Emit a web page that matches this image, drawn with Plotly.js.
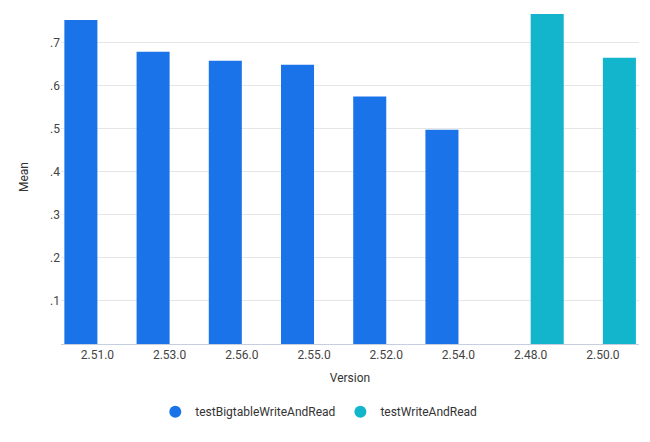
<!DOCTYPE html>
<html>
<head>
<meta charset="utf-8">
<script src="https://cdn.plot.ly/plotly-3.0.1.min.js"></script>
<style>html,body{margin:0;padding:0;background:#fff;}#chart{width:650px;height:442px;}</style>
</head>
<body>
<div id="chart"></div>
<script>
const categories = ["2.51.0","2.53.0","2.56.0","2.55.0","2.52.0","2.54.0","2.48.0","2.50.0"];
const seriesNames = ["testBigtableWriteAndRead","testWriteAndRead"];
const bigtableValues = [0.752,0.678,0.657,0.648,0.574,0.497,null,null];
const writeReadValues = [null,null,null,null,null,null,0.766,0.664];
const yTickVals = [0.1,0.2,0.3,0.4,0.5,0.6,0.7];
const yTickText = [".1",".2",".3",".4",".5",".6",".7"];
const colors = ["#1a73e8","#12b5cb"];

const traces = [
  {type:"bar", x:categories, y:bigtableValues, name:seriesNames[0], marker:{color:colors[0]}, showlegend:false, hoverinfo:"x+y"},
  {type:"bar", x:categories, y:writeReadValues, name:seriesNames[1], marker:{color:colors[1]}, showlegend:false, hoverinfo:"x+y"},
  {type:"scatter", mode:"markers", x:[categories[0]], y:[null], name:seriesNames[0], marker:{color:colors[0], size:12, symbol:"circle"}},
  {type:"scatter", mode:"markers", x:[categories[0]], y:[null], name:seriesNames[1], marker:{color:colors[1], size:12, symbol:"circle"}}
];

const layout = {
  width:650, height:442,
  margin:{l:61, r:11, t:10, b:98},
  font:{family:"Roboto, sans-serif", size:12, color:"#333"},
  paper_bgcolor:"#fff", plot_bgcolor:"#fff",
  barmode:"group", bargap:0.085, bargroupgap:0,
  xaxis:{
    type:"category",
    title:{text:"Version", font:{size:12, color:"#333"}, standoff:12},
    showline:true, linecolor:"#c5cfe0", linewidth:1,
    showgrid:false, ticks:"", tickfont:{size:12, color:"#444"}
  },
  yaxis:{
    range:[0,0.775],
    title:{text:"Mean", font:{size:12, color:"#333"}, standoff:18},
    tickvals:yTickVals, ticktext:yTickText,
    showgrid:true, gridcolor:"#e6e6e6", zeroline:false, showline:false,
    ticks:"", tickfont:{size:12, color:"#444"}
  },
  legend:{orientation:"h", x:0.446, xanchor:"center", y:-0.203, yanchor:"middle",
    font:{size:12, color:"#333"}, itemsizing:"constant", itemwidth:30}
};

Plotly.newPlot("chart", traces, layout, {displayModeBar:false, staticPlot:true});
</script>
</body>
</html>
